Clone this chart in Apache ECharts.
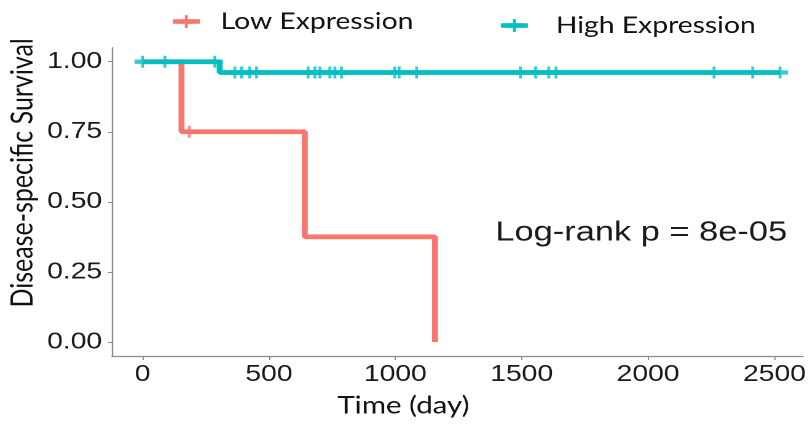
<!DOCTYPE html>
<html>
<head>
<meta charset="utf-8">
<title>Disease-specific Survival</title>
<script src="https://cdn.jsdelivr.net/npm/echarts@6/dist/echarts.min.js"></script>
<style>
  html, body { margin: 0; padding: 0; background: #fff; overflow: hidden; }
  #wrap { width: 810px; height: 425px; overflow: hidden; }
  /* the reference is stretched sideways, so draw narrow and widen */
  #chart { width: 659px; height: 425px; transform: scaleX(1.22914); transform-origin: 0 0; }
</style>
</head>
<body>
<div id="wrap"><div id="chart"></div></div>
<script>
  // Kaplan-Meier steps: [time (day), survival]
  const lowSteps = [[0, 1], [154, 0.75], [642, 0.375], [1157, 0]];
  const lowCensor = [[185, 0.75]];
  const highSteps = [[0, 1], [305, 0.9615], [2522, 0.9615]];
  const highCensor = [
    [0, 1], [88, 1], [286, 1],
    [365, 0.9615], [391, 0.9615], [424, 0.9615], [451, 0.9615],
    [655, 0.9615], [682, 0.9615], [702, 0.9615],
    [741, 0.9615], [761, 0.9615], [787, 0.9615],
    [998, 0.9615], [1015, 0.9615], [1084, 0.9615],
    [1495, 0.9615], [1555, 0.9615], [1607, 0.9615], [1636, 0.9615],
    [2261, 0.9615], [2414, 0.9615], [2522, 0.9615]
  ];
  const xTicks = [0, 500, 1000, 1500, 2000, 2500];
  const yTicks = [0, 0.25, 0.5, 0.75, 1];
  const groupNames = ['Low Expression', 'High Expression'];
  const pValueText = 'Log-rank p = 8e-05';

  const RED = '#F8766D';
  const TEAL = '#00BFC4';
  const plus = 'path://M4.1,0L5.9,0L5.9,3.2L10,3.2L10,6.8L5.9,6.8L5.9,10L4.1,10L4.1,6.8L0,6.8L0,3.2L4.1,3.2Z';

  let chart = echarts.init(document.getElementById('chart'), null, {devicePixelRatio: 2});

  let legendText = {fontFamily: 'Lato', fontSize: 23, color: '#111'};
  let tickLabel = {fontFamily: 'Liberation Sans', fontSize: 23, color: '#1a1a1a'};

  let option = {
    animation: false,
    backgroundColor: '#fff',
    legend: [
      {data: [groupNames[0]], left: 138.3, top: 10, padding: 0, itemWidth: 22, itemHeight: 16,
        lineStyle: {width: 4.5}, textStyle: Object.assign({padding: [0, 0, 0, 12]}, legendText)},
      {data: [groupNames[1]], left: 405.2, top: 14, padding: 0, itemWidth: 22, itemHeight: 16,
        lineStyle: {width: 4.5}, textStyle: Object.assign({padding: [0, 0, 0, 17.8]}, legendText)}
    ],
    grid: {left: 91.1, right: 5.7, top: 47.7, bottom: 69, outerBoundsMode: 'none', containLabel: false},
    xAxis: {
      type: 'value',
      min: -121,
      max: 2613,
      splitLine: {show: false},
      axisLine: {onZero: false, lineStyle: {color: '#8c8c8c', width: 1.2}},
      axisTick: {show: true, length: 4, customValues: xTicks, lineStyle: {color: '#8c8c8c'}},
      axisLabel: Object.assign({customValues: xTicks, margin: 7, formatter: v => String(v)}, tickLabel),
      name: 'Time (day)',
      nameLocation: 'middle',
      nameGap: 38,
      nameTextStyle: {fontFamily: 'Lato', fontSize: 24, color: '#111', padding: [0, 88, 0, 0]}
    },
    yAxis: {
      type: 'value',
      min: -0.05,
      max: 1.05,
      splitLine: {show: false},
      axisLine: {show: true, onZero: false, lineStyle: {color: '#8c8c8c', width: 1.2}},
      axisTick: {show: true, length: 3.3, customValues: yTicks, lineStyle: {color: '#8c8c8c'}},
      axisLabel: Object.assign({customValues: yTicks, margin: 8, formatter: v => v.toFixed(2)}, tickLabel),
      name: 'Disease-specific Survival',
      nameLocation: 'middle',
      nameGap: 60,
      nameMoveOverlap: false,
      nameTextStyle: {fontFamily: 'Lato', fontSize: 25, color: '#111', padding: [0, 0, 0, 58]}
    },
    graphic: [{
      type: 'text',
      left: 403,
      top: 219,
      style: {text: pValueText, fontFamily: 'Liberation Sans', fontSize: 28, fill: '#1a1a1a'}
    }],
    series: [
      {
        name: groupNames[0], type: 'line', step: 'end', data: lowSteps,
        symbol: plus, symbolSize: [13, 12], showSymbol: false,
        color: RED, lineStyle: {width: 4.8, color: RED}, z: 2
      },
      {
        name: groupNames[0], type: 'scatter', data: lowCensor,
        symbol: plus, symbolSize: [13, 12], itemStyle: {color: RED}, z: 3
      },
      {
        name: groupNames[1], type: 'line', step: 'end', data: highSteps,
        symbol: plus, symbolSize: [13, 12], showSymbol: false,
        color: TEAL, lineStyle: {width: 4.8, color: TEAL}, z: 4
      },
      {
        name: groupNames[1], type: 'scatter', data: highCensor,
        symbol: plus, symbolSize: [13, 12], itemStyle: {color: TEAL}, z: 5
      }
    ]
  };

  chart.setOption(option);
</script>
</body>
</html>
